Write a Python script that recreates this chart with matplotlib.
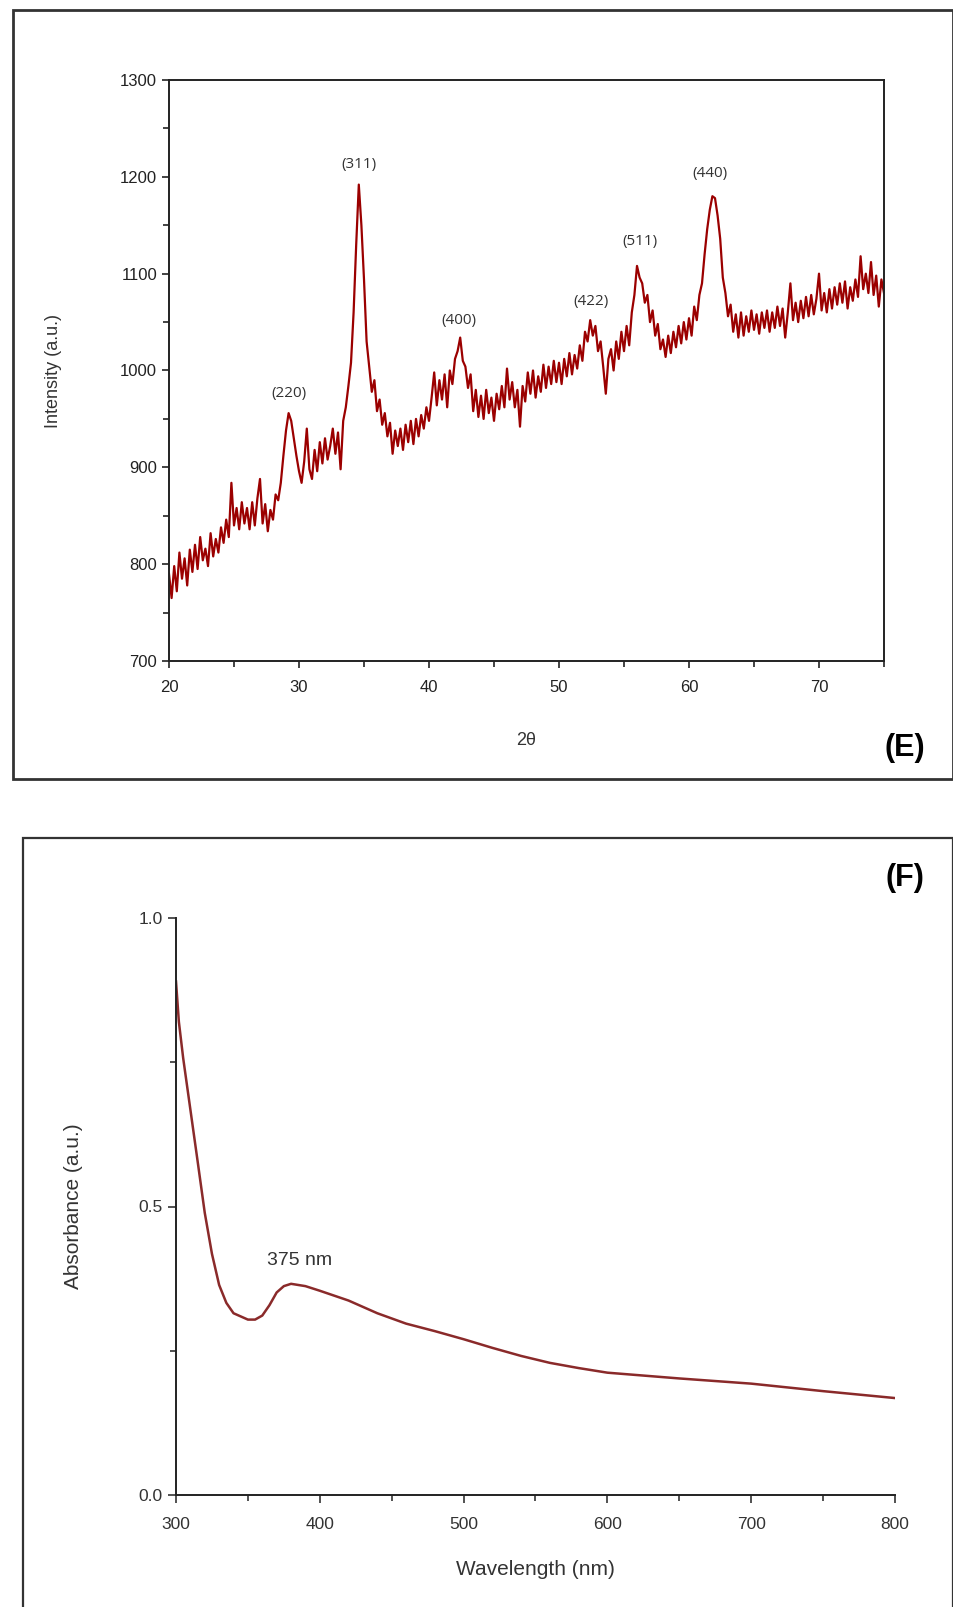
import numpy as np
import matplotlib
matplotlib.use("Agg")
import matplotlib.pyplot as plt
from matplotlib.patches import Rectangle
from matplotlib.ticker import MultipleLocator

plt.rcParams['font.family'] = ['Liberation Sans Narrow', 'Liberation Sans', 'DejaVu Sans']

# XRD pattern (panel E), every 0.2 degree from 20 to 75
intensity = [
    790, 765, 798, 772, 812, 785, 806, 778, 815, 792,
    820, 795, 828, 804, 816, 798, 832, 808, 826, 812,
    838, 822, 846, 828, 884, 840, 858, 836, 864, 842,
    858, 836, 864, 840, 868, 888, 842, 862, 834, 856,
    846, 872, 866, 884, 912, 938, 956, 948, 930, 912,
    896, 884, 906, 940, 898, 888, 918, 896, 926, 904,
    930, 908, 922, 940, 914, 936, 898, 948, 962, 984,
    1008, 1060, 1130, 1192, 1150, 1094, 1030, 1004, 978, 990,
    958, 970, 944, 956, 932, 946, 914, 938, 922, 940,
    918, 944, 926, 948, 924, 950, 932, 954, 940, 962,
    948, 972, 998, 964, 990, 970, 996, 962, 1000, 986,
    1012, 1020, 1034, 1010, 1004, 982, 996, 958, 980, 952,
    974, 950, 980, 956, 972, 948, 976, 960, 984, 962,
    1002, 970, 988, 962, 980, 942, 984, 968, 998, 976,
    1000, 972, 994, 978, 1006, 982, 1004, 986, 1010, 988,
    1008, 986, 1012, 994, 1018, 996, 1016, 1002, 1026, 1010,
    1040, 1030, 1052, 1036, 1046, 1020, 1030, 1004, 976, 1012,
    1022, 1000, 1030, 1012, 1040, 1020, 1046, 1026, 1060, 1078,
    1108, 1096, 1090, 1070, 1078, 1050, 1062, 1036, 1048, 1022,
    1032, 1014, 1036, 1018, 1040, 1024, 1046, 1028, 1050, 1032,
    1054, 1036, 1066, 1052, 1078, 1090, 1120, 1146, 1166, 1180,
    1178, 1160, 1136, 1096, 1080, 1056, 1068, 1040, 1058, 1034,
    1060, 1036, 1056, 1040, 1062, 1042, 1058, 1038, 1060, 1044,
    1062, 1040, 1060, 1044, 1066, 1046, 1064, 1034, 1060, 1090,
    1052, 1070, 1050, 1072, 1054, 1076, 1056, 1078, 1058, 1074,
    1100, 1062, 1080, 1060, 1084, 1064, 1086, 1068, 1090, 1070,
    1092, 1064, 1086, 1072, 1094, 1076, 1118, 1084, 1100, 1080,
    1112, 1078, 1098, 1066, 1094, 1080,
]
two_theta = np.linspace(20, 75, len(intensity))

peak_labels = ['(220)', '(311)', '(400)', '(422)', '(511)', '(440)']
peak_x = [29.2, 34.6, 42.3, 52.5, 56.2, 61.6]
peak_y = [976, 1213, 1052, 1071, 1133, 1203]

# UV-vis spectrum (panel F)
wavelength = [300, 302, 305, 310, 315, 320, 325, 330, 335, 340, 350, 355, 360,
              365, 370, 375, 380, 390, 400, 420, 440, 460, 480, 500, 520, 540,
              560, 580, 600, 620, 650, 700, 750, 800]
absorbance = [0.89, 0.82, 0.757, 0.668, 0.579, 0.489, 0.418, 0.364, 0.333, 0.315,
              0.304, 0.304, 0.311, 0.329, 0.351, 0.362, 0.366, 0.362, 0.354, 0.337,
              0.315, 0.297, 0.284, 0.270, 0.255, 0.241, 0.229, 0.220, 0.212, 0.208,
              0.202, 0.193, 0.180, 0.168]

W, H = 954, 1607
fig = plt.figure(figsize=(W / 100, H / 100), dpi=100)

# panel frames
fig.patches.append(Rectangle((13 / W, 1 - 779 / H), 940 / W, 769 / H, transform=fig.transFigure,
                             fill=False, edgecolor='#333333', linewidth=2))
fig.patches.append(Rectangle((23 / W, 1 - 1612 / H), 930 / W, 774 / H, transform=fig.transFigure,
                             fill=False, edgecolor='#333333', linewidth=1.6))

# ---- panel E ----
ax1 = fig.add_axes([169 / W, 1 - 661 / H, 715 / W, 581 / H])
ax1.plot(two_theta, intensity, color='#9b0000', linewidth=1.6)
ax1.set_xlim(20, 75)
ax1.set_ylim(700, 1300)
ax1.xaxis.set_major_locator(MultipleLocator(10))
ax1.xaxis.set_minor_locator(MultipleLocator(5))
ax1.yaxis.set_major_locator(MultipleLocator(100))
ax1.yaxis.set_minor_locator(MultipleLocator(50))
ax1.tick_params(which='both', direction='out', length=5, width=1.2, labelsize=12, colors='#222222')
ax1.tick_params(axis='x', pad=9)
ax1.tick_params(which='minor', length=4)
for s in ax1.spines.values():
    s.set_linewidth(1.4)
    s.set_color('#222222')
ax1.set_ylabel('Intensity (a.u.)', fontsize=13, color='#333333', labelpad=42)
ax1.set_xlabel('2θ', fontsize=13, color='#333333', labelpad=26)
for lab, px, py in zip(peak_labels, peak_x, peak_y):
    ax1.text(px, py, lab, ha='center', va='center', fontsize=11, color='#333333',
             family=['Open Sans', 'DejaVu Sans'])
fig.text(905 / W, 1 - 748 / H, '(E)', fontsize=22, fontweight='bold', ha='center', va='center',
         family=['Liberation Sans', 'DejaVu Sans'])

# ---- panel F ----
ax2 = fig.add_axes([176 / W, 1 - 1495 / H, 719 / W, 577 / H])
ax2.plot(wavelength, absorbance, color='#8a2a2a', linewidth=1.8)
ax2.set_xlim(300, 800)
ax2.set_ylim(0, 1.0)
ax2.xaxis.set_major_locator(MultipleLocator(100))
ax2.xaxis.set_minor_locator(MultipleLocator(50))
ax2.yaxis.set_major_locator(MultipleLocator(0.5))
ax2.yaxis.set_minor_locator(MultipleLocator(0.25))
ax2.yaxis.set_major_formatter(matplotlib.ticker.FormatStrFormatter('%.1f'))
ax2.tick_params(which='both', direction='out', length=6, width=1.2, labelsize=12.5, colors='#333333')
ax2.tick_params(axis='x', pad=10)
ax2.tick_params(which='minor', length=4)
ax2.spines['top'].set_visible(False)
ax2.spines['right'].set_visible(False)
for s in ('left', 'bottom'):
    ax2.spines[s].set_linewidth(1.4)
    ax2.spines[s].set_color('#222222')
ax2.set_ylabel('Absorbance (a.u.)', fontsize=15, color='#333333', labelpad=40,
               family=['Liberation Sans', 'DejaVu Sans'])
ax2.set_xlabel('Wavelength (nm)', fontsize=15, color='#333333', labelpad=20,
               family=['Liberation Sans', 'DejaVu Sans'])
ax2.text(386, 0.407, '375 nm', ha='center', va='center', fontsize=14, color='#333333',
         family=['Liberation Sans', 'DejaVu Sans'])
fig.text(905 / W, 1 - 878 / H, '(F)', fontsize=22, fontweight='bold', ha='center', va='center',
         family=['Liberation Sans', 'DejaVu Sans'])

fig.savefig('out.png', dpi=100, facecolor='white')
